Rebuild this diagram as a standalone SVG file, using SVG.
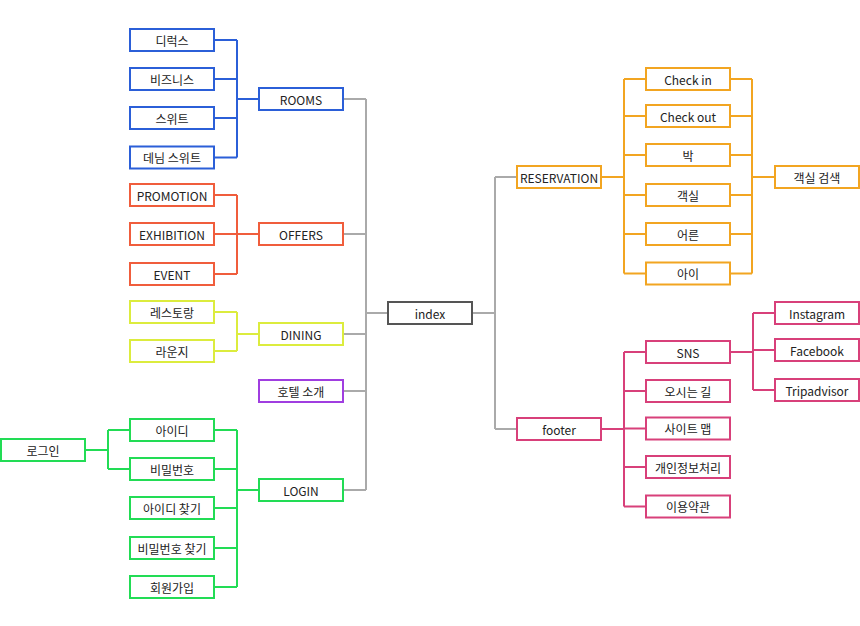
<svg xmlns="http://www.w3.org/2000/svg" width="860" height="626" viewBox="0 0 860 626">
<style>
rect{fill:#fff;stroke-width:2}
text{font-family:"Noto Sans CJK KR","Noto Sans",sans-serif;font-size:12px;fill:#222;text-anchor:middle;dominant-baseline:central}
.c path{fill:none;stroke-width:2}
.blue{stroke:#2b5fd8}.red{stroke:#f05d3c}.yel{stroke:#dcec3e}.pur{stroke:#a03ee0}.grn{stroke:#22dc55}.org{stroke:#f2a521}.pnk{stroke:#d8407a}.gry{stroke:#aaaaaa}.idx{stroke:#555555}
</style>
<rect width="860" height="626" fill="#fff" stroke="none"/>
<g class="c" id="connectors">
<path class="gry" d="M343 99H366M343 234H366M343 334H366M343 391H366M343 490H366M366 99V490M366 313H388M472 313H495M495 177V429M495 177H517M495 429H517"/>
<path class="blue" d="M214 40H237M214 79H237M214 118H237M214 157.5H237M237 40V157.5M237 99H259"/>
<path class="red" d="M214 195H237M214 234H237M214 274H237M237 195V274M237 234H259"/>
<path class="yel" d="M214 312H237M214 351H237M237 312V351M237 334H259"/>
<path class="grn" d="M214 430H237M214 469H237M214 508H237M214 548H237M214 587H237M237 430V587M237 490H259M85 450H108M108 430V469M108 430H130M108 469H130"/>
<path class="org" d="M601 177H624M624 79V273.5M624 79H646M624 116H646M624 155H646M624 195H646M624 234H646M624 273.5H646M730 79H752M730 116H752M730 155H752M730 195H752M730 234H752M730 273.5H752M752 79V273.5M752 177H775"/>
<path class="pnk" d="M601 429H624M624 352V506.5M624 352H646M624 391H646M624 428.5H646M624 467H646M624 506.5H646M730 352H753M753 313V390M753 313H775M753 350H775M753 390H775"/>
</g>
<g id="n-dirux"><rect class="blue" x="130" y="29" width="84" height="22"/><text x="172" y="40">디럭스</text></g>
<g id="n-business"><rect class="blue" x="130" y="68" width="84" height="22"/><text x="172" y="79">비즈니스</text></g>
<g id="n-suite"><rect class="blue" x="130" y="107" width="84" height="22"/><text x="172" y="118">스위트</text></g>
<g id="n-denim"><rect class="blue" x="130" y="146.5" width="84" height="22"/><text x="172" y="157.5">데님 스위트</text></g>
<g id="n-rooms"><rect class="blue" x="259" y="88" width="84" height="22"/><text x="301" y="99">ROOMS</text></g>
<g id="n-promotion"><rect class="red" x="130" y="184" width="84" height="22"/><text x="172" y="195">PROMOTION</text></g>
<g id="n-exhibition"><rect class="red" x="130" y="223" width="84" height="22"/><text x="172" y="234">EXHIBITION</text></g>
<g id="n-event"><rect class="red" x="130" y="263" width="84" height="22"/><text x="172" y="274">EVENT</text></g>
<g id="n-offers"><rect class="red" x="259" y="223" width="84" height="22"/><text x="301" y="234">OFFERS</text></g>
<g id="n-restaurant"><rect class="yel" x="130" y="301" width="84" height="22"/><text x="172" y="312">레스토랑</text></g>
<g id="n-lounge"><rect class="yel" x="130" y="340" width="84" height="22"/><text x="172" y="351">라운지</text></g>
<g id="n-dining"><rect class="yel" x="259" y="323" width="84" height="22"/><text x="301" y="334">DINING</text></g>
<g id="n-hotel"><rect class="pur" x="259" y="380" width="84" height="22"/><text x="301" y="391">호텔 소개</text></g>
<g id="n-login-kr"><rect class="grn" x="1" y="439" width="84" height="22"/><text x="43" y="450">로그인</text></g>
<g id="n-id"><rect class="grn" x="130" y="419" width="84" height="22"/><text x="172" y="430">아이디</text></g>
<g id="n-pw"><rect class="grn" x="130" y="458" width="84" height="22"/><text x="172" y="469">비밀번호</text></g>
<g id="n-findid"><rect class="grn" x="130" y="497" width="84" height="22"/><text x="172" y="508">아이디 찾기</text></g>
<g id="n-findpw"><rect class="grn" x="130" y="537" width="84" height="22"/><text x="172" y="548">비밀번호 찾기</text></g>
<g id="n-join"><rect class="grn" x="130" y="576" width="84" height="22"/><text x="172" y="587">회원가입</text></g>
<g id="n-login"><rect class="grn" x="259" y="479" width="84" height="22"/><text x="301" y="490">LOGIN</text></g>
<g id="n-index"><rect class="idx" x="388" y="302" width="84" height="22"/><text x="430" y="313">index</text></g>
<g id="n-reservation"><rect class="org" x="517" y="166" width="84" height="22"/><text x="559" y="177">RESERVATION</text></g>
<g id="n-checkin"><rect class="org" x="646" y="68" width="84" height="22"/><text x="688" y="79">Check in</text></g>
<g id="n-checkout"><rect class="org" x="646" y="105" width="84" height="22"/><text x="688" y="116">Check out</text></g>
<g id="n-bak"><rect class="org" x="646" y="144" width="84" height="22"/><text x="688" y="155">박</text></g>
<g id="n-room"><rect class="org" x="646" y="184" width="84" height="22"/><text x="688" y="195">객실</text></g>
<g id="n-adult"><rect class="org" x="646" y="223" width="84" height="22"/><text x="688" y="234">어른</text></g>
<g id="n-child"><rect class="org" x="646" y="262.5" width="84" height="22"/><text x="688" y="273.5">아이</text></g>
<g id="n-search"><rect class="org" x="775" y="166" width="84" height="22"/><text x="817" y="177">객실 검색</text></g>
<g id="n-footer"><rect class="pnk" x="517" y="418" width="84" height="22"/><text x="559" y="429">footer</text></g>
<g id="n-sns"><rect class="pnk" x="646" y="341" width="84" height="22"/><text x="688" y="352">SNS</text></g>
<g id="n-way"><rect class="pnk" x="646" y="380" width="84" height="22"/><text x="688" y="391">오시는 길</text></g>
<g id="n-sitemap"><rect class="pnk" x="646" y="417.5" width="84" height="22"/><text x="688" y="428.5">사이트 맵</text></g>
<g id="n-privacy"><rect class="pnk" x="646" y="456" width="84" height="22"/><text x="688" y="467">개인정보처리</text></g>
<g id="n-terms"><rect class="pnk" x="646" y="495.5" width="84" height="22"/><text x="688" y="506.5">이용약관</text></g>
<g id="n-instagram"><rect class="pnk" x="775" y="302" width="84" height="22"/><text x="817" y="313">Instagram</text></g>
<g id="n-facebook"><rect class="pnk" x="775" y="339" width="84" height="22"/><text x="817" y="350">Facebook</text></g>
<g id="n-tripadvisor"><rect class="pnk" x="775" y="379" width="84" height="22"/><text x="817" y="390">Tripadvisor</text></g>
</svg>
